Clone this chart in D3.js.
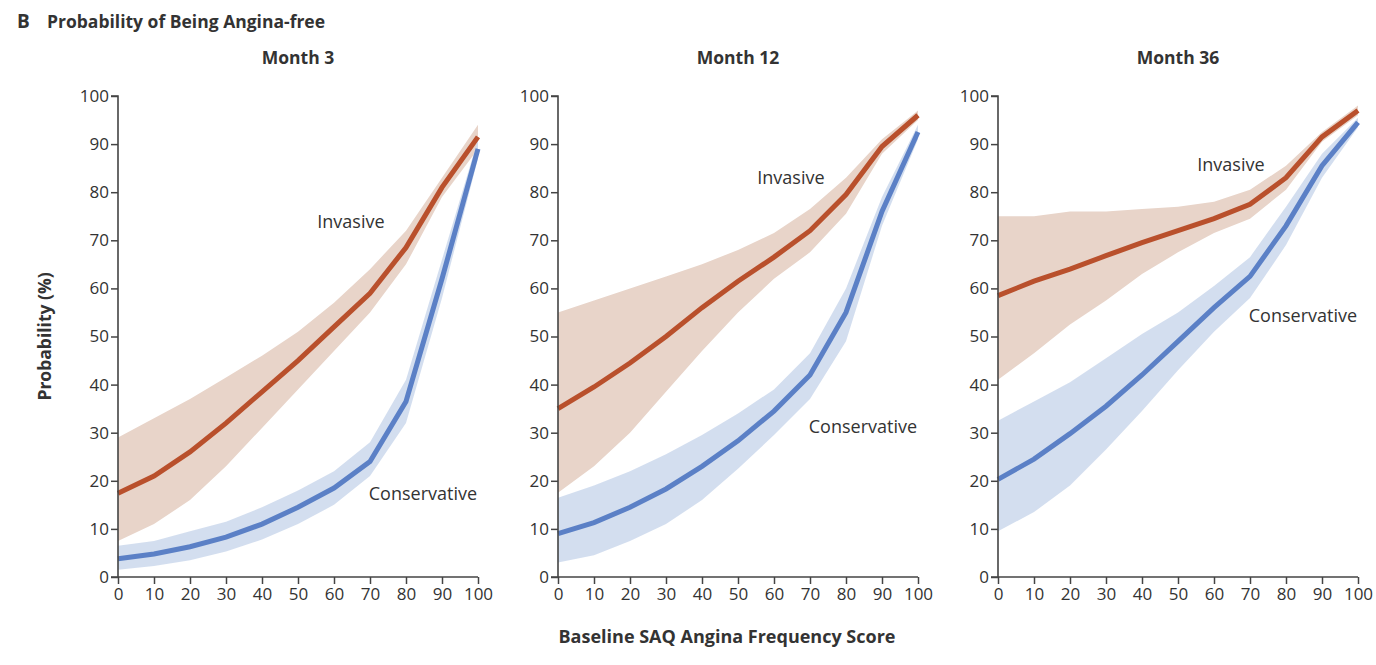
<!DOCTYPE html>
<html>
<head>
<meta charset="utf-8">
<script src="https://cdn.jsdelivr.net/npm/d3@7"></script>
<style>
  body { margin: 0; background: #fff; }
  text { font-family: "Open Sans", sans-serif; fill: #333; }
</style>
</head>
<body>
<script>
// Baseline SAQ score (x)
var scores = [0, 10, 20, 30, 40, 50, 60, 70, 80, 90, 100];
var panels = ["Month 3", "Month 12", "Month 36"];
var yTicks = [0, 10, 20, 30, 40, 50, 60, 70, 80, 90, 100];

// Month 3
var inv3 = [17.4, 21, 26, 32, 38.5, 45, 52, 59, 68.5, 81, 91.5];
var inv3Hi = [29, 33, 37, 41.5, 46, 51, 57, 64, 72, 83, 94];
var inv3Lo = [7.5, 11, 16, 23, 31, 39, 47, 55, 65, 79, 89];
var con3 = [3.8, 4.8, 6.3, 8.3, 11, 14.5, 18.5, 24, 36.5, 62, 89];
var con3Hi = [6.5, 7.5, 9.5, 11.5, 14.5, 18, 22, 28, 41, 66, 91];
var con3Lo = [1.5, 2.3, 3.5, 5.3, 7.8, 11, 15, 21, 32, 58, 87];

// Month 12
var inv12 = [35, 39.5, 44.5, 50, 56, 61.5, 66.5, 72, 79.5, 89.5, 96];
var inv12Hi = [55, 57.5, 60, 62.5, 65, 68, 71.5, 76.5, 83, 91, 97];
var inv12Lo = [17.5, 23, 30, 38.5, 47, 55, 62, 67.5, 75.5, 88, 95];
var con12 = [9, 11.3, 14.5, 18.3, 23, 28.3, 34.5, 42, 55, 76, 92.5];
var con12Hi = [16.5, 19, 22, 25.5, 29.5, 34, 39, 46.5, 60, 79, 94];
var con12Lo = [3, 4.5, 7.5, 11, 16, 22.5, 29.5, 37, 49, 73, 91];

// Month 36
var inv36 = [58.5, 61.5, 64, 66.8, 69.5, 72, 74.5, 77.5, 83, 91.5, 97];
var inv36Hi = [75, 75, 76, 76, 76.5, 77, 78, 80.5, 85.5, 92.5, 98];
var inv36Lo = [41, 46.5, 52.5, 57.5, 63, 67.5, 71.5, 74.5, 80.5, 90.5, 96];
var con36 = [20.3, 24.5, 29.8, 35.5, 42, 49, 56, 62.5, 73, 85.5, 94.5];
var con36Hi = [32.5, 36.5, 40.5, 45.5, 50.5, 55, 60.5, 66.5, 77, 88, 95.5];
var con36Lo = [9.5, 13.5, 19, 26.5, 34.5, 43, 51, 58, 69, 83, 93.5];

var invasive = [inv3, inv12, inv36];
var invHi = [inv3Hi, inv12Hi, inv36Hi];
var invLo = [inv3Lo, inv12Lo, inv36Lo];
var conservative = [con3, con12, con36];
var conHi = [con3Hi, con12Hi, con36Hi];
var conLo = [con3Lo, con12Lo, con36Lo];

// label anchor positions (data units) for "Invasive" / "Conservative"
var invLabel = [[64.7, 72.5], [64.7, 81.7], [64.7, 84.4]];
var conLabel = [[84.7, 16], [84.7, 30], [84.7, 53]];

var invColor = "#b9502c", invBand = "#e8d4c9";
var conColor = "#5b80c6", conBand = "#d1dcee";

var width = 1376, height = 665;
var plotLeft = [118, 558, 998];
var plotW = 360;
var plotTop = 96, plotBottom = 577;

var svg = d3.select("body").append("svg")
    .attr("width", width)
    .attr("height", height);

svg.append("text")
    .attr("x", 17).attr("y", 28)
    .style("font-weight", "bold").style("font-size", "19px")
    .text("B");
svg.append("text")
    .attr("x", 47).attr("y", 28)
    .style("font-weight", "bold").style("font-size", "17.5px")
    .text("Probability of Being Angina-free");

var y = d3.scaleLinear().domain([0, 100]).range([plotBottom, plotTop]);

panels.forEach(function (name, p) {
    var x = d3.scaleLinear().domain([0, 100]).range([plotLeft[p], plotLeft[p] + plotW]);
    var g = svg.append("g");

    var area = function (hi, lo) {
        return d3.area()
            .x(function (d, i) { return x(scores[i]); })
            .y0(function (d, i) { return y(lo[i]); })
            .y1(function (d, i) { return y(hi[i]); })(scores);
    };
    var line = d3.line()
        .x(function (d, i) { return x(scores[i]); })
        .y(function (d) { return y(d); });

    g.append("path").attr("d", area(invHi[p], invLo[p])).attr("fill", invBand);
    g.append("path").attr("d", area(conHi[p], conLo[p])).attr("fill", conBand).attr("fill-opacity", 0.95);
    g.append("path").attr("d", line(invasive[p]))
        .attr("fill", "none").attr("stroke", invColor).attr("stroke-width", 5);
    g.append("path").attr("d", line(conservative[p]))
        .attr("fill", "none").attr("stroke", conColor).attr("stroke-width", 5);

    var xAxis = g.append("g")
        .attr("transform", "translate(0," + plotBottom + ")")
        .call(d3.axisBottom(x).tickValues(scores).tickSize(7).tickPadding(4));
    var yAxis = g.append("g")
        .attr("transform", "translate(" + plotLeft[p] + ",0)")
        .call(d3.axisLeft(y).tickValues(yTicks).tickSize(7).tickPadding(2));
    [xAxis, yAxis].forEach(function (a) {
        a.select(".domain").attr("stroke", "#444").attr("stroke-width", 1.6);
        a.selectAll(".tick line").attr("stroke", "#444").attr("stroke-width", 1.5);
        a.selectAll(".tick text").style("font-size", "17px").style("fill", "#333")
            .style("font-family", "'Open Sans', sans-serif");
    });
    yAxis.select(".domain").attr("d", "M-7," + plotTop + "H0V" + plotBottom + "H-7");
    xAxis.select(".domain").attr("d", "M" + plotLeft[p] + ",0H" + (plotLeft[p] + plotW));

    svg.append("text")
        .attr("x", plotLeft[p] + 180).attr("y", 64)
        .attr("text-anchor", "middle")
        .style("font-weight", "bold").style("font-size", "17.5px")
        .text(name);

    svg.append("text")
        .attr("x", x(invLabel[p][0])).attr("y", y(invLabel[p][1]))
        .attr("text-anchor", "middle").style("font-size", "18px")
        .text("Invasive");
    svg.append("text")
        .attr("x", x(conLabel[p][0])).attr("y", y(conLabel[p][1]))
        .attr("text-anchor", "middle").style("font-size", "18px")
        .text("Conservative");
});

svg.append("text")
    .attr("transform", "translate(51," + ((plotTop + plotBottom) / 2) + ") rotate(-90)")
    .attr("text-anchor", "middle")
    .style("font-weight", "bold").style("font-size", "17.5px")
    .text("Probability (%)");

svg.append("text")
    .attr("x", 727).attr("y", 643)
    .attr("text-anchor", "middle")
    .style("font-weight", "bold").style("font-size", "18px")
    .text("Baseline SAQ Angina Frequency Score");
</script>
</body>
</html>
